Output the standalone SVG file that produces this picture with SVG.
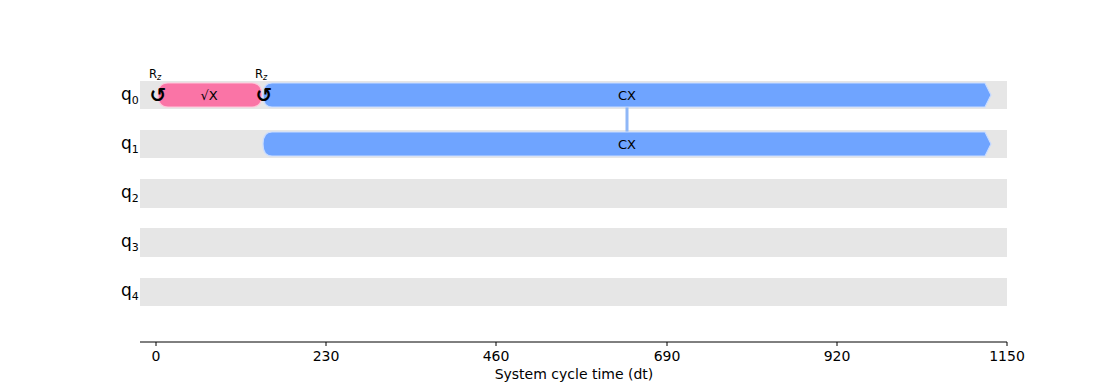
<svg xmlns="http://www.w3.org/2000/svg" width="1120" height="384" viewBox="0 0 1120 384">
<style>
text{font-family:"DejaVu Sans",sans-serif;fill:#000}
.row{fill:#e6e6e6}
.qlab{font-size:17px}
.qsub{font-size:11px}
.glab{font-size:13px;text-anchor:middle}
.rz{font-size:11.5px;text-anchor:middle}
.rzsub{font-size:8px;font-style:italic}
.sym{font-size:20px;text-anchor:middle;font-weight:bold}
.tick{font-size:14px;text-anchor:middle}
.cx{fill:#6fa4ff;stroke:#c9dcff;stroke-width:1.2}
.sx{fill:#fa74a6;stroke:#ffc6da;stroke-width:1.2}
</style>
<rect width="1120" height="384" fill="#fff"/>
<g id="rows">
<rect class="row" x="140" y="81" width="867" height="28"/>
<rect class="row" x="140" y="130" width="867" height="28"/>
<rect class="row" x="140" y="179" width="867" height="29"/>
<rect class="row" x="140" y="228" width="867" height="29"/>
<rect class="row" x="140" y="278" width="867" height="28"/>
</g>
<g id="labels">
<text class="qlab" x="121" y="100">q<tspan class="qsub" dy="4">0</tspan></text>
<text class="qlab" x="121" y="149">q<tspan class="qsub" dy="4">1</tspan></text>
<text class="qlab" x="121" y="198">q<tspan class="qsub" dy="4">2</tspan></text>
<text class="qlab" x="121" y="247">q<tspan class="qsub" dy="4">3</tspan></text>
<text class="qlab" x="121" y="296">q<tspan class="qsub" dy="4">4</tspan></text>
</g>
<g id="connectors">
<line x1="627" y1="107" x2="627" y2="132" stroke="#8fb7f7" stroke-width="3"/>
</g>
<g id="sx_q0">
<path class="sx" d="M168,83 H252 Q262,83 262,95 Q262,107 252,107 H168 Q158,107 158,95 Q158,83 168,83 Z"/>
<text class="glab" x="209" y="100">√X</text>
</g>
<g id="cx_q0">
<path class="cx" d="M272,83 H985 L991,95 L985,107 H272 Q263,107 263,95 Q263,83 272,83 Z"/>
<text class="glab" x="627" y="100">CX</text>
</g>
<g id="cx_q1">
<path class="cx" d="M272,132 H985 L991,144 L985,156 H272 Q263,156 263,144 Q263,132 272,132 Z"/>
<text class="glab" x="627" y="149">CX</text>
</g>
<g id="rz0">
<text class="sym" x="158" y="102">↺</text>
<text class="rz" x="155" y="78">R<tspan class="rzsub" dy="2">z</tspan></text>
</g>
<g id="rz1">
<text class="sym" x="264" y="102">↺</text>
<text class="rz" x="261" y="78">R<tspan class="rzsub" dy="2">z</tspan></text>
</g>
<g id="axis" stroke="#000" stroke-width="1">
<line x1="140" y1="342" x2="1007" y2="342"/>
<line x1="156" y1="342" x2="156" y2="346"/>
<line x1="326" y1="342" x2="326" y2="346"/>
<line x1="496" y1="342" x2="496" y2="346"/>
<line x1="667" y1="342" x2="667" y2="346"/>
<line x1="837" y1="342" x2="837" y2="346"/>
<line x1="1007" y1="342" x2="1007" y2="346"/>
</g>
<g id="ticks">
<text class="tick" x="156" y="361">0</text>
<text class="tick" x="326" y="361">230</text>
<text class="tick" x="496" y="361">460</text>
<text class="tick" x="667" y="361">690</text>
<text class="tick" x="837" y="361">920</text>
<text class="tick" x="1007" y="361">1150</text>
<text class="tick" x="574" y="379">System cycle time (dt)</text>
</g>
</svg>
